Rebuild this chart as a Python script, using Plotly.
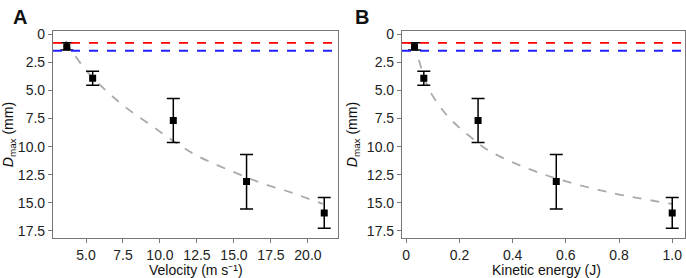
import plotly.graph_objects as go

# ---------------- data ----------------
velocity = [3.7, 5.45, 10.9, 15.85, 21.1]
energy = [0.031, 0.066, 0.27, 0.564, 1.0]
d_max = [1.1, 3.9, 7.67, 13.1, 15.9]
d_low = [0.75, 3.28, 5.72, 10.69, 14.52]   # upper whisker (smaller D)
d_high = [1.4, 4.53, 9.64, 15.55, 17.27]   # lower whisker (larger D)

fit_v_x = [3.63, 5.0, 7.3, 9.5, 10.8, 12.5, 15.8, 17.0, 18.9, 21.0]
fit_v_y = [0.6, 3.2, 6.1, 8.2, 9.4, 10.8, 12.7, 13.3, 14.1, 15.1]
fit_e_x = [0.03, 0.07, 0.10, 0.16, 0.25, 0.30, 0.40, 0.56, 0.77, 1.0]
fit_e_y = [0.7, 4.0, 5.5, 7.4, 9.3, 10.2, 11.4, 12.8, 14.1, 15.1]

red_level = 0.76
blue_level = 1.46

y_tickvals = [0, 2.5, 5.0, 7.5, 10.0, 12.5, 15.0, 17.5]
y_ticktext = ["0", "2.5", "5.0", "7.5", "10.0", "12.5", "15.0", "17.5"]
xa_tickvals = [5.0, 7.5, 10.0, 12.5, 15.0, 17.5, 20.0]
xa_ticktext = ["5.0", "7.5", "10.0", "12.5", "15.0", "17.5", "20.0"]
xb_tickvals = [0, 0.2, 0.4, 0.6, 0.8, 1.0]
xb_ticktext = ["0", "0.2", "0.4", "0.6", "0.8", "1.0"]

# ---------------- figure ----------------
W, H = 686, 278
FONT = "Liberation Sans, Arial, sans-serif"
fig = go.Figure()

err_plus = [h - m for h, m in zip(d_high, d_max)]
err_minus = [m - l for m, l in zip(d_max, d_low)]

for xs, fx, fy, xa, ya in [
    (velocity, fit_v_x, fit_v_y, "x", "y"),
    (energy, fit_e_x, fit_e_y, "x2", "y2"),
]:
    fig.add_trace(go.Scatter(
        x=fx, y=fy, mode="lines", xaxis=xa, yaxis=ya,
        line=dict(color="#aaaaaa", width=1.8, dash="dash", shape="spline"),
        showlegend=False, hoverinfo="skip"))
    fig.add_trace(go.Scatter(
        x=xs, y=d_max, mode="markers", xaxis=xa, yaxis=ya,
        marker=dict(symbol="square", size=7, color="black"),
        error_y=dict(type="data", symmetric=False, array=err_plus,
                     arrayminus=err_minus, color="black", thickness=1.5,
                     width=6.5),
        showlegend=False))

for xr, yr in [("x", "y"), ("x2", "y2")]:
    for lvl, col in [(red_level, "#ff0000"), (blue_level, "#2222ff")]:
        fig.add_shape(type="line", xref=f"{xr} domain", yref=yr,
                      x0=0, x1=1, y0=lvl, y1=lvl,
                      line=dict(color=col, width=1.8, dash="dash"))

def px_x(p):
    return p / W

def px_y(p):
    return 1 - p / H

axis_common = dict(showline=True, mirror=True, linecolor="#777777",
                   linewidth=1.2, ticks="outside", ticklen=4,
                   tickcolor="#777777", showgrid=False, zeroline=False,
                   tickfont=dict(family=FONT, size=14, color="#222222"))

fig.update_layout(
    width=W, height=H,
    margin=dict(l=0, r=0, t=0, b=0),
    paper_bgcolor="white", plot_bgcolor="white",
    font=dict(family=FONT, size=14, color="#222222"),
    xaxis=dict(domain=[px_x(53), px_x(338)], range=[2.77, 22.03],
               tickvals=xa_tickvals, ticktext=xa_ticktext, anchor="y",
               **axis_common),
    yaxis=dict(domain=[px_y(238), px_y(27)], range=[18.12, -0.26],
               tickvals=y_tickvals, ticktext=y_ticktext, anchor="x",
               **axis_common),
    xaxis2=dict(domain=[px_x(402), px_x(685)], range=[-0.016, 1.048],
                tickvals=xb_tickvals, ticktext=xb_ticktext, anchor="y2",
                **axis_common),
    yaxis2=dict(domain=[px_y(238), px_y(27)], range=[18.12, -0.26],
                tickvals=y_tickvals, ticktext=y_ticktext, anchor="x2",
                **axis_common),
)

ann = [
    dict(text="<b>A</b>", x=px_x(20), y=px_y(12), size=20),
    dict(text="<b>B</b>", x=px_x(362), y=px_y(12), size=20),
    dict(text="Velocity (m s⁻¹)", x=px_x(196), y=px_y(271), size=14),
    dict(text="Kinetic energy (J)", x=px_x(546), y=px_y(271), size=14),
]
for a in ann:
    fig.add_annotation(text=a["text"], x=a["x"], y=a["y"], xref="paper",
                       yref="paper", showarrow=False, xanchor="center",
                       yanchor="middle",
                       font=dict(family=FONT, size=a["size"], color="#111111"))
for xp in [9, 353]:
    fig.add_annotation(text="<i>D</i><sub>max</sub> (mm)", x=px_x(xp),
                       y=px_y(133), xref="paper", yref="paper",
                       showarrow=False, textangle=-90, xanchor="center",
                       yanchor="middle",
                       font=dict(family=FONT, size=14, color="#111111"))

fig.write_html("out.html")
